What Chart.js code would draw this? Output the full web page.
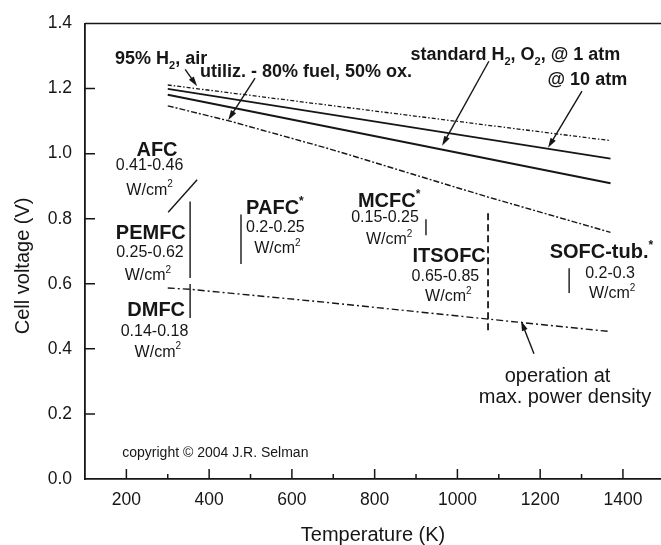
<!DOCTYPE html>
<html>
<head>
<meta charset="utf-8">
<script src="https://cdn.jsdelivr.net/npm/chart.js@4"></script>
<style>
  html, body { margin: 0; padding: 0; background: #fff; }
  #wrap { width: 661px; height: 545px; }
</style>
</head>
<body>
<div id="wrap"><canvas id="chart" width="661" height="545"></canvas></div>
<script>
// Values: temperature in K, cell voltage in V
const xTicks = [200, 400, 600, 800, 1000, 1200, 1400];
const xMinorTicks = [300, 500, 700, 900, 1100, 1300];
const yTicks = [0, 0.2, 0.4, 0.6, 0.8, 1.0, 1.2, 1.4];

const h2AirT = [300, 700, 1370];
const h2AirV = [1.211, 1.147, 1.040];
const atm10T = [300, 1370];
const atm10V = [1.199, 0.985];
const atm1T = [300, 1370];
const atm1V = [1.181, 0.909];
const utilT = [300, 450, 690, 1070, 1370];
const utilV = [1.147, 1.100, 1.015, 0.868, 0.758];
const maxPowT = [300, 354, 690, 1070, 1370];
const maxPowV = [0.587, 0.583, 0.542, 0.492, 0.453];

// operating ranges of each cell type
const afcT = [301, 371], afcV = [0.820, 0.920];
const pemfcT = [354, 354], pemfcV = [0.853, 0.618];
const dmfcT = [354, 354], dmfcV = [0.599, 0.495];
const pafcT = [477, 477], pafcV = [0.813, 0.661];
const mcfcT = [924, 924], mcfcV = [0.798, 0.749];
const itsofcT = [1074, 1074], itsofcV = [0.817, 0.446];
const sofcT = [1270, 1270], sofcV = [0.648, 0.572];

const INK = '#161616';
const FONT = '"Liberation Sans", Arial, Helvetica, sans-serif';

// text labels, placed in data units (T, V); _{} subscript, ^{} superscript
const labels = [
  ['95% H_{2}, air', 284, 1.275, 18, true],
  ['utiliz. - 80% fuel, 50% ox.', 634, 1.235, 18, true],
  ['standard H_{2}, O_{2}, @ 1 atm', 1140, 1.287, 18, true],
  ['@ 10 atm', 1314, 1.210, 18, true],
  ['AFC', 274, 0.993, 20, true],
  ['0.41-0.46', 256, 0.951, 16, false],
  ['W/cm^{2}', 256, 0.874, 16, false],
  ['PEMFC', 259, 0.737, 20, true],
  ['0.25-0.62', 257, 0.682, 16, false],
  ['W/cm^{2}', 252, 0.611, 16, false],
  ['DMFC', 272, 0.501, 20, true],
  ['0.14-0.18', 268, 0.440, 16, false],
  ['W/cm^{2}', 276, 0.376, 16, false],
  ['PAFC^{*}', 559, 0.813, 20, true],
  ['0.2-0.25', 560, 0.758, 16, false],
  ['W/cm^{2}', 565, 0.694, 16, false],
  ['MCFC^{*}', 835, 0.835, 20, true],
  ['0.15-0.25', 825, 0.789, 16, false],
  ['W/cm^{2}', 835, 0.721, 16, false],
  ['ITSOFC', 980, 0.666, 20, true],
  ['0.65-0.85', 971, 0.608, 16, false],
  ['W/cm^{2}', 978, 0.547, 16, false],
  ['SOFC-tub.^{*}', 1348, 0.679, 20, true],
  ['0.2-0.3', 1369, 0.617, 16, false],
  ['W/cm^{2}', 1374, 0.556, 16, false],
  ['operation at', 1242, 0.297, 20, false],
  ['max. power density', 1260, 0.235, 20, false],
  ['copyright \u00a9 2004 J.R. Selman', 415, 0.067, 14, false],
];

// pointer arrows: tail (T, V) -> tip (T, V)
const arrows = [
  [342, 1.259, 371, 1.207],
  [511, 1.232, 446, 1.103],
  [1076, 1.284, 963, 1.024],
  [1301, 1.192, 1219, 1.018],
  [1185, 0.385, 1154, 0.486],
];

const pts = (xs, ys) => xs.map((x, i) => ({ x, y: ys[i] }));
function series(xs, ys, width, dash) {
  return {
    data: pts(xs, ys), showLine: true, borderColor: INK, borderWidth: width,
    borderDash: dash || [], pointRadius: 0, pointHoverRadius: 0, fill: false, tension: 0,
  };
}

function drawRich(ctx, str, cx, by, size, bold) {
  const parts = [];
  const re = /([_^])\{([^}]*)\}|([^_^]+)/g;
  let m;
  while ((m = re.exec(str))) {
    if (m[3]) parts.push({ t: m[3], k: 'n' });
    else parts.push({ t: m[2], k: m[1] === '_' ? 'sub' : 'sup' });
  }
  const w = bold ? 'bold ' : '';
  const big = w + size + 'px ' + FONT;
  const small = w + Math.round(size * 0.6) + 'px ' + FONT;
  let total = 0;
  parts.forEach(p => {
    ctx.font = p.k === 'n' ? big : small;
    p.w = ctx.measureText(p.t).width;
    total += p.w;
  });
  let x = cx - total / 2;
  ctx.textAlign = 'left';
  ctx.textBaseline = 'alphabetic';
  parts.forEach(p => {
    ctx.font = p.k === 'n' ? big : small;
    const dy = p.k === 'sub' ? size * 0.28 : p.k === 'sup' ? -size * 0.45 : 0;
    ctx.fillText(p.t, x, by + dy);
    x += p.w;
  });
}

function arrow(ctx, x0, y0, x1, y1) {
  const ang = Math.atan2(y1 - y0, x1 - x0);
  const c = Math.cos(ang), s = Math.sin(ang);
  const len = 10, half = 3;
  ctx.beginPath();
  ctx.moveTo(x0, y0);
  ctx.lineTo(x1 - len * 0.7 * c, y1 - len * 0.7 * s);
  ctx.stroke();
  ctx.beginPath();
  ctx.moveTo(x1, y1);
  ctx.lineTo(x1 - len * c + half * s, y1 - len * s - half * c);
  ctx.lineTo(x1 - len * c - half * s, y1 - len * s + half * c);
  ctx.closePath();
  ctx.fill();
}

const decorations = {
  id: 'decorations',
  afterDraw(chart) {
    const { ctx, chartArea: a, scales: { x, y } } = chart;
    ctx.save();
    ctx.strokeStyle = INK;
    ctx.fillStyle = INK;
    // top frame
    ctx.lineWidth = 1.6;
    ctx.beginPath(); ctx.moveTo(a.left, a.top); ctx.lineTo(a.right, a.top); ctx.stroke();
    // inward ticks
    ctx.lineWidth = 1.5;
    ctx.beginPath();
    xTicks.forEach(v => { const px = x.getPixelForValue(v); ctx.moveTo(px, a.bottom); ctx.lineTo(px, a.bottom - 10); });
    xMinorTicks.forEach(v => { const px = x.getPixelForValue(v); ctx.moveTo(px, a.bottom); ctx.lineTo(px, a.bottom - 5); });
    yTicks.slice(1, -1).forEach(v => { const py = y.getPixelForValue(v); ctx.moveTo(a.left, py); ctx.lineTo(a.left + 10, py); });
    ctx.stroke();
    // arrows
    ctx.lineWidth = 1.4;
    arrows.forEach(([t0, v0, t1, v1]) => arrow(ctx, x.getPixelForValue(t0), y.getPixelForValue(v0), x.getPixelForValue(t1), y.getPixelForValue(v1)));
    // labels
    labels.forEach(([txt, t, v, size, bold]) => drawRich(ctx, txt, x.getPixelForValue(t), y.getPixelForValue(v), size, bold));
    // y axis title
    ctx.translate(23, y.getPixelForValue(0.655));
    ctx.rotate(-Math.PI / 2);
    ctx.font = '20px ' + FONT;
    ctx.textAlign = 'center';
    ctx.textBaseline = 'middle';
    ctx.fillText('Cell voltage (V)', 0, 0);
    ctx.restore();
  },
};

new Chart(document.getElementById('chart').getContext('2d'), {
  type: 'scatter',
  data: {
    datasets: [
      series(h2AirT, h2AirV, 1.3, [4, 2, 1.5, 2]),
      series(atm10T, atm10V, 1.8),
      series(atm1T, atm1V, 1.8),
      series(utilT, utilV, 1.4, [6, 2, 2, 2]),
      series(maxPowT, maxPowV, 1.4, [7, 3, 2, 3]),
      series(afcT, afcV, 1.4),
      series(pemfcT, pemfcV, 1.4),
      series(dmfcT, dmfcV, 1.4),
      series(pafcT, pafcV, 1.4),
      series(mcfcT, mcfcV, 1.4),
      series(itsofcT, itsofcV, 1.8, [7, 4]),
      series(sofcT, sofcV, 1.4),
    ],
  },
  options: {
    responsive: false,
    animation: false,
    events: [],
    layout: { padding: { top: 21, left: 0, right: 0, bottom: 0 } },
    plugins: { legend: { display: false }, tooltip: { enabled: false } },
    scales: {
      x: {
        type: 'linear', min: 100, max: 1492,
        afterBuildTicks: s => { s.ticks = xTicks.map(v => ({ value: v })); },
        afterFit: s => { s.height = 66; },
        grid: { display: false, drawTicks: false },
        border: { display: true, color: INK, width: 1.8 },
        ticks: { color: INK, font: { family: FONT, size: 17.5 }, padding: 11, maxRotation: 0, autoSkip: false, callback: v => String(v) },
        title: { display: true, text: 'Temperature (K)', color: INK, font: { family: FONT, size: 20, lineHeight: 1 }, padding: 0 },
      },
      y: {
        type: 'linear', min: 0, max: 1.4,
        afterBuildTicks: s => { s.ticks = yTicks.map(v => ({ value: v })); },
        afterFit: s => { s.width = 85; },
        grid: { display: false, drawTicks: false },
        border: { display: true, color: INK, width: 1.8 },
        ticks: { color: INK, font: { family: FONT, size: 17.5 }, padding: 13, autoSkip: false, callback: v => v.toFixed(1) },
      },
    },
  },
  plugins: [decorations],
});
</script>
</body>
</html>
